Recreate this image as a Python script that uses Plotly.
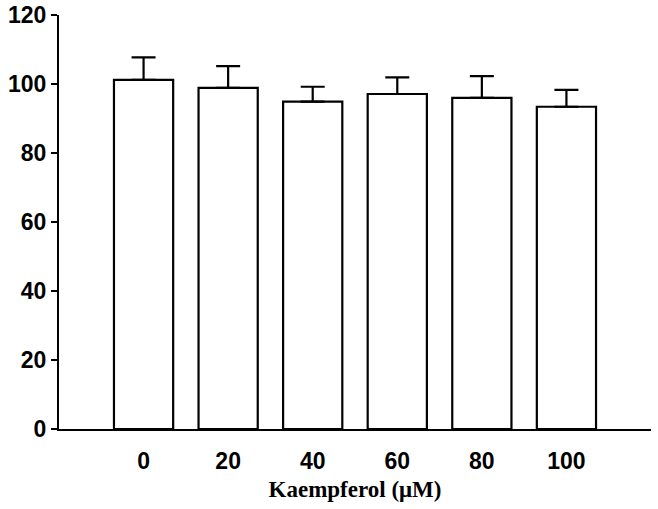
import plotly.graph_objects as go

categories = ["0", "20", "40", "60", "80", "100"]
values = [101.2, 98.9, 94.9, 97.1, 96.0, 93.4]
errors = [6.5, 6.3, 4.3, 4.8, 6.3, 4.9]
y_ticks = [0, 20, 40, 60, 80, 100, 120]

fig = go.Figure()
fig.add_trace(go.Bar(
    x=categories, y=values, width=0.7,
    marker=dict(color="white", line=dict(color="black", width=2.2)),
    error_y=dict(type="data", array=errors, arrayminus=[0]*len(errors), symmetric=False,
                 color="black", thickness=2.2, width=12),
    showlegend=False,
))

fig.update_layout(
    width=658, height=509,
    margin=dict(l=59, r=7, t=15, b=80),
    paper_bgcolor="white", plot_bgcolor="white",
    xaxis=dict(type="category", range=[-1, 6], showline=True, linecolor="black", linewidth=2.2,
               ticks="", showgrid=False, zeroline=False, automargin=False,
               tickfont=dict(family="Liberation Sans, Arial", size=23, color="black", weight="bold"),
               ticklabelstandoff=10,
               title=dict(text="Kaempferol (μM)", standoff=8,
                          font=dict(family="Liberation Serif, Times New Roman", size=23, color="black", weight="bold"))),
    yaxis=dict(range=[0, 120], tickvals=y_ticks, showline=True, linecolor="black", linewidth=2.2,
               ticks="outside", ticklen=6, tickwidth=2.2, tickcolor="black",
               showgrid=False, zeroline=False, automargin=False,
               tickfont=dict(family="Liberation Sans, Arial", size=23, color="black", weight="bold")),
)

fig.write_html("out.html", config={"displayModeBar": False},
               post_script="document.body.style.margin='0';document.body.style.overflow='hidden';")
